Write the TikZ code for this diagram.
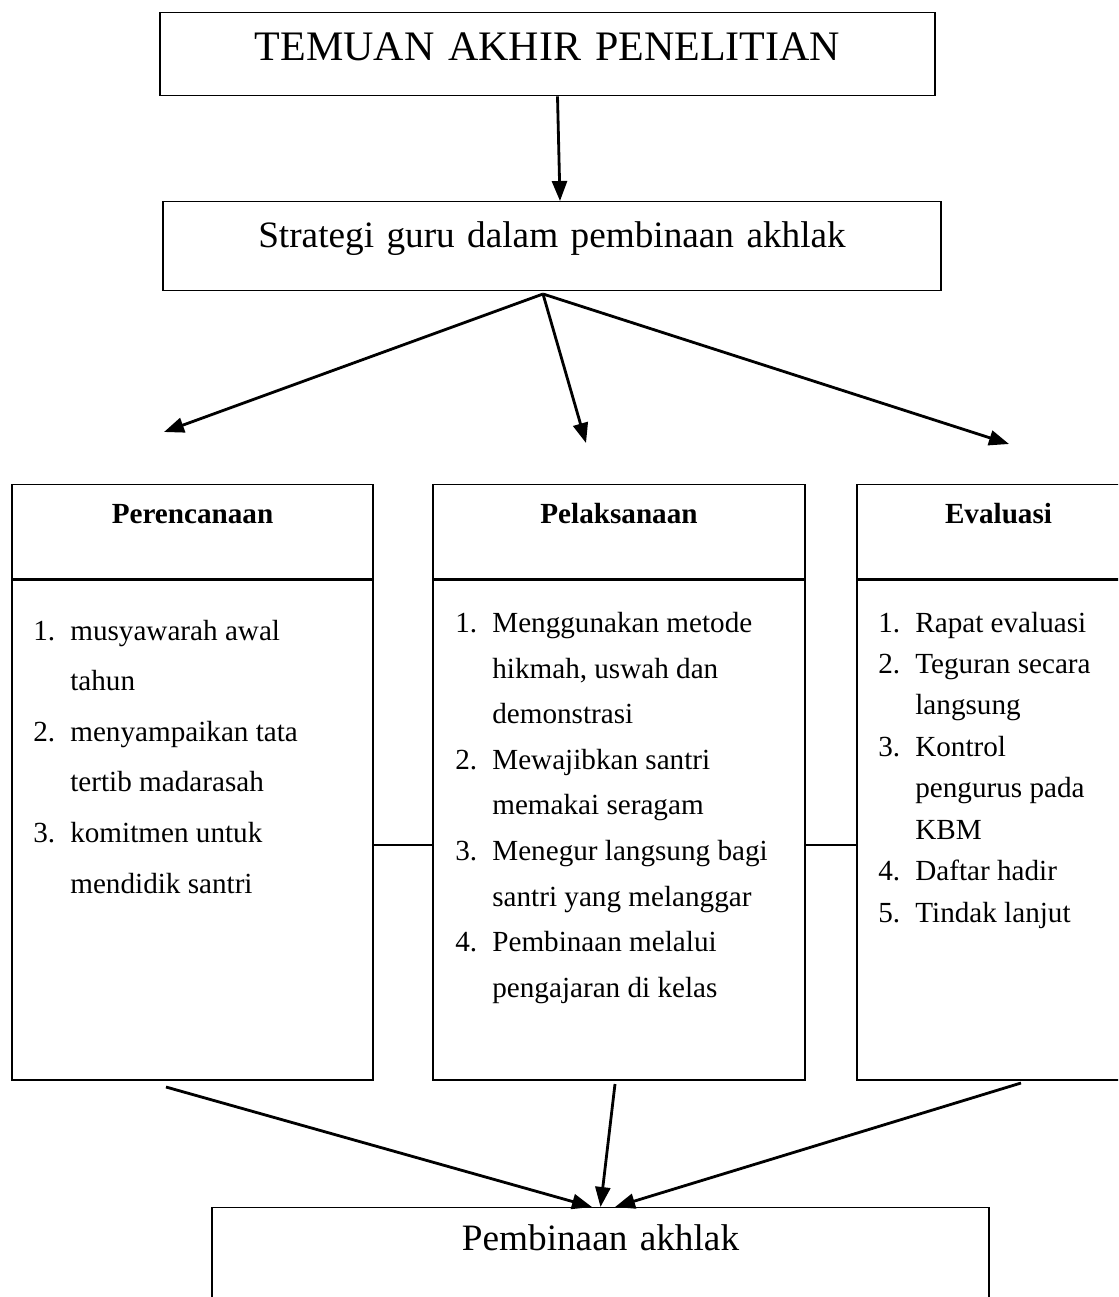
\documentclass[tikz,border=0pt]{standalone}
\usepackage{fontspec}
\setmainfont{Liberation Serif}
\usetikzlibrary{arrows.meta,positioning}
\newcommand{\numlbl}[1]{\makebox[0.74cm][l]{#1}}
\newcommand{\numgap}{\hspace*{0.74cm}}

\begin{document}
\begin{tikzpicture}[x=0.02cm, y=-0.02cm, >={Triangle[length=0.4cm,width=0.3cm]},
	   box/.style={draw, line width=0.8pt, inner sep=0pt, align=center},
	   hd/.style={box, font=\fontsize{16.6}{20}\selectfont\bfseries, text height=0.78cm, text depth=1.1cm},
	   bd/.style={box, minimum height=10cm, anchor=north},
	   lst/.style={inner sep=0pt, align=left, anchor=base west},
	   arr/.style={->, line width=1.6pt}]
	  \useasboundingbox (0,0) rectangle (1118,1297);
	  \clip (0,0) rectangle (1118,1297);
	  % top of the chart
	  \node[box, anchor=north, text width=15.5cm, text height=0.96cm, text depth=0.7cm,
	    font=\fontsize{23.9}{28}\selectfont] (temuan) at (547.5,12) {TEMUAN AKHIR PENELITIAN};
	  \node[box, anchor=north, text width=15.56cm, text height=0.92cm, text depth=0.86cm,
	    font=\fontsize{21.2}{26}\selectfont] (strat) at (552,201) {Strategi guru dalam pembinaan akhlak};
	  \draw[arr] ([xshift=0.2cm]temuan.south) -- ([xshift=0.16cm]strat.north);
	  % three columns
	  \node[hd, anchor=north, text width=7.22cm] (lhd) at (192.5,484) {Perencanaan};
	  \node[hd, anchor=north, text width=7.44cm] (mhd) at (619,484) {Pelaksanaan};
	  \node[hd, anchor=north, text width=5.66cm] (ehd) at (998.5,484) {Evaluasi};
	  \node[bd, minimum width=7.22cm] (lbody) at (lhd.south) {};
	  \node[bd, minimum width=7.44cm] (mbody) at (mhd.south) {};
	  \node[bd, minimum width=5.66cm] (ebody) at (ehd.south) {};
	  \draw[line width=0.8pt] ([yshift=-0.3cm]lbody.east) -- ([yshift=-0.3cm]mbody.west);
	  \draw[line width=0.8pt] ([yshift=-0.3cm]mbody.east) -- ([yshift=-0.3cm]ebody.west);
	  % lists (placed by the baseline of their last line)
	  \node[lst, font=\fontsize{16.6}{28.8}\selectfont] (llist) at (33,893)
	    {\numlbl{1.}musyawarah awal\\ \numgap tahun\\ \numlbl{2.}menyampaikan tata\\
	     \numgap tertib madarasah\\ \numlbl{3.}komitmen untuk\\ \numgap mendidik santri};
	  \node[lst, font=\fontsize{16.6}{25.9}\selectfont] (mlist) at (455,997)
	    {\numlbl{1.}Menggunakan metode\\ \numgap hikmah, uswah dan\\ \numgap demonstrasi\\
	     \numlbl{2.}Mewajibkan santri\\ \numgap memakai seragam\\ \numlbl{3.}Menegur langsung bagi\\
	     \numgap santri yang melanggar\\ \numlbl{4.}Pembinaan melalui\\ \numgap pengajaran di kelas};
	  \node[lst, font=\fontsize{16.6}{23.57}\selectfont] (elist) at (878,922)
	    {\numlbl{1.}Rapat evaluasi\\ \numlbl{2.}Teguran secara\\ \numgap langsung\\ \numlbl{3.}Kontrol\\
	     \numgap pengurus pada\\ \numgap KBM\\ \numlbl{4.}Daftar hadir\\ \numlbl{5.}Tindak lanjut};
	  % arrows out of the strategy box
	  \coordinate (hub) at (543,294);
	  \coordinate (pl) at (164,432);
	  \coordinate (pm) at (586,443);
	  \coordinate (pe) at (1009,444);
	  \draw[arr] (hub) -- (pl); \draw[arr] (hub) -- (pm); \draw[arr] (hub) -- (pe);
	  % result
	  \node[box, anchor=north, text width=15.54cm, text height=0.86cm, text depth=3cm,
	    font=\fontsize{21.2}{26}\selectfont] (akhlak) at (600.5,1207) {Pembinaan akhlak};
	  \coordinate (ql) at (166,1087);
	  \coordinate (qm) at (615,1084);
	  \coordinate (qe) at (1021,1083);
	  \draw[arr] (ql) -- ([xshift=-0.17cm]akhlak.north);
	  \draw[arr] (qm) -- (akhlak.north);
	  \draw[arr] (qe) -- ([xshift=0.29cm]akhlak.north);
	\end{tikzpicture}
\end{document}
